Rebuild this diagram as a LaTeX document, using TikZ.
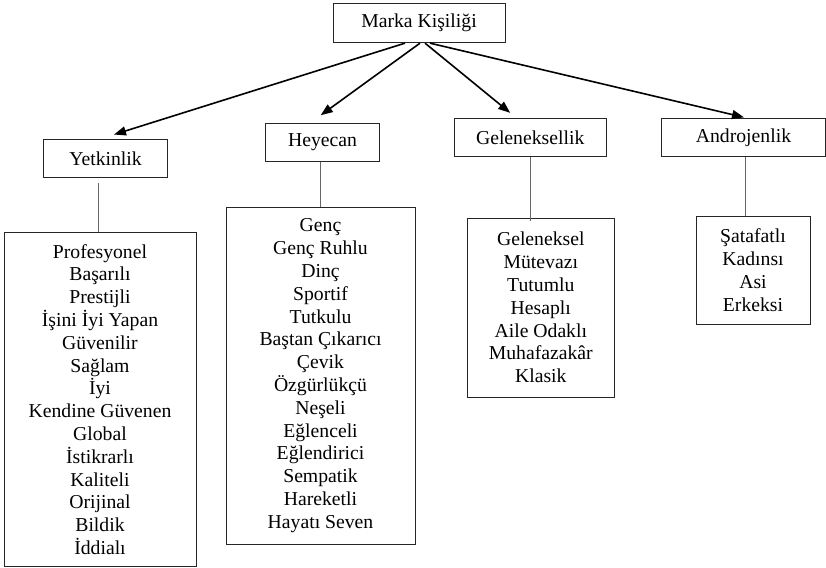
\documentclass[tikz,border=0pt]{standalone}
\usepackage{fontspec}
\setmainfont{Liberation Serif}
\usetikzlibrary{arrows.meta}
\tikzset{
  hbox/.style={draw=black!85, line width=0.9pt, inner sep=0pt, align=center,
    font=\fontsize{19.7}{22.8}\selectfont, text=black},
  lbox/.style={hbox},
  arr/.style={line width=1.6pt, -{Triangle[length=12pt,width=9pt]}},
  conn/.style={draw=black!60, line width=0.7pt},
}
\begin{document}
\begin{tikzpicture}[x=1pt,y=-1pt]
\useasboundingbox[fill=white] (0,0) rectangle (826,567);
% header boxes
\node[hbox, minimum width=172pt, minimum height=39.4pt] (marka) at (419,23) {Marka Kişiliği};
\node[hbox, minimum width=124.4pt, minimum height=38.4pt] (yet) at (105.5,158.5) {Yetkinlik};
\node[hbox, minimum width=114.4pt, minimum height=38.4pt] (hey) at (322.5,142.5) {Heyecan};
\node[hbox, minimum width=151.7pt, minimum height=38.4pt] (gel) at (530.2,137.5) {Geleneksellik};
\node[hbox, minimum width=163.6pt, minimum height=38.4pt] (and) at (743.5,137.5) {Androjenlik};
% list boxes
\node[lbox, minimum width=192pt, minimum height=333.6pt] (yetL) at (100,399.5)
  {Profesyonel\\Başarılı\\Prestijli\\İşini İyi Yapan\\Güvenilir\\Sağlam\\İyi\\Kendine Güvenen\\Global\\İstikrarlı\\Kaliteli\\Orijinal\\Bildik\\İddialı};
\node[lbox, minimum width=189pt, minimum height=336.7pt] (heyL) at (320.5,375.6)
  {Genç\\Genç Ruhlu\\Dinç\\Sportif\\Tutkulu\\Baştan Çıkarıcı\\Çevik\\Özgürlükçü\\Neşeli\\Eğlenceli\\Eğlendirici\\Sempatik\\Hareketli\\Hayatı Seven};
\node[lbox, minimum width=146.3pt, minimum height=178.7pt] (gelL) at (540.8,307.6)
  {Geleneksel\\Mütevazı\\Tutumlu\\Hesaplı\\Aile Odaklı\\Muhafazakâr\\Klasik};
\node[lbox, minimum width=114pt, minimum height=107.3pt] (andL) at (753,270.3)
  {Şatafatlı\\Kadınsı\\Asi\\Erkeksi};
% arrows
\draw[arr] ([xshift=-14pt]marka.south) -- ([xshift=8.5pt,yshift=4.3pt]yet.north);
\draw[arr] ([xshift=1pt]marka.south) -- ([xshift=-1.8pt,yshift=7.6pt]hey.north);
\draw[arr] ([xshift=6pt]marka.south) -- ([xshift=-20pt,yshift=5pt]gel.north);
\draw[arr] ([xshift=11pt]marka.south) -- ([xshift=0.5pt,yshift=0.5pt]and.north);
% connectors
\draw[conn] ([xshift=-7.5pt,yshift=-5.3pt]yet.south) -- ([xshift=-2pt]yetL.north);
\draw[conn] ([xshift=-2.5pt]hey.south) -- ([xshift=-0.5pt]heyL.north);
\draw[conn] ([xshift=0.5pt]gel.south) -- ([xshift=-10.1pt,yshift=-3.3pt]gelL.north);
\draw[conn] ([xshift=2.2pt]and.south) -- ([xshift=-7.3pt]andL.north);
\end{tikzpicture}
\end{document}
